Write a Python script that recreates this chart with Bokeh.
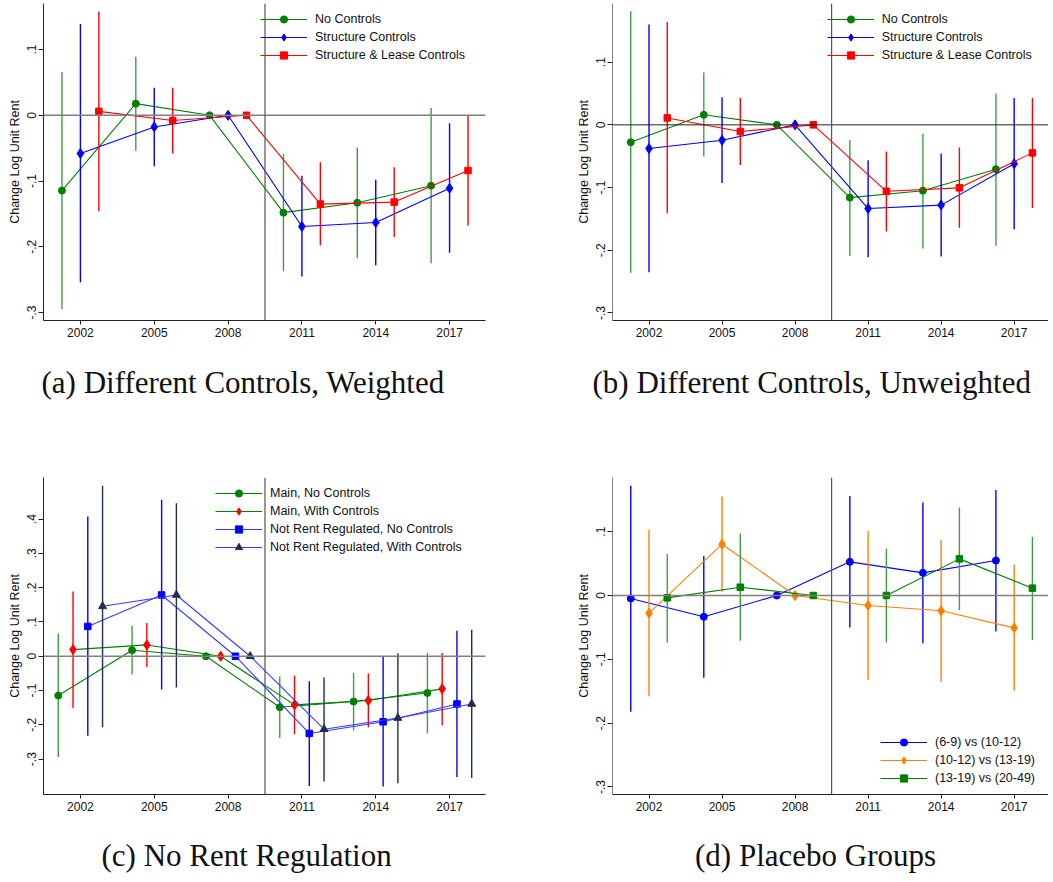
import math
from bokeh.plotting import figure
from bokeh.models import Range1d, FixedTicker, Span, Legend, LegendItem, Title
from bokeh.layouts import row, column
from bokeh.embed import file_html
from bokeh.resources import INLINE

years = [2002, 2005, 2008, 2011, 2014, 2017]
NA = float("nan")

# ---------------- Panel (a): Different Controls, Weighted ----------------
a_none = [-0.1145, 0.0177, 0.0, -0.148, -0.133, -0.107]
a_none_lo = [-0.295, -0.054, NA, -0.237, -0.217, -0.225]
a_none_hi = [0.066, 0.089, NA, -0.059, -0.049, 0.011]
a_struct = [-0.058, -0.0177, 0.0, -0.169, -0.163, -0.111]
a_struct_lo = [-0.254, -0.0775, NA, -0.245, -0.228, -0.209]
a_struct_hi = [0.139, 0.042, NA, -0.092, -0.098, -0.012]
a_lease = [0.006, -0.008, 0.0, -0.135, -0.132, -0.084]
a_lease_lo = [-0.146, -0.058, NA, -0.198, -0.185, -0.168]
a_lease_hi = [0.158, 0.042, NA, -0.0715, -0.079, -0.0005]

# ---------------- Panel (b): Different Controls, Unweighted ----------------
b_none = [-0.0277, 0.016, 0.0, -0.116, -0.105, -0.0707]
b_none_lo = [-0.236, -0.0505, NA, -0.209, -0.197, -0.193]
b_none_hi = [0.181, 0.0835, NA, -0.024, -0.0144, 0.05]
b_struct = [-0.0378, -0.0245, 0.0, -0.1335, -0.128, -0.062]
b_struct_lo = [-0.235, -0.0926, NA, -0.211, -0.21, -0.1665]
b_struct_hi = [0.16, 0.044, NA, -0.0564, -0.0457, 0.043]
b_lease = [0.011, -0.0106, 0.0, -0.106, -0.1005, -0.0447]
b_lease_lo = [-0.141, -0.064, NA, -0.17, -0.164, -0.1325]
b_lease_hi = [0.164, 0.043, NA, -0.0426, -0.036, 0.043]

# ---------------- Panel (c): No Rent Regulation ----------------
c_main_nc = [-0.1146, 0.0175, 0.0, -0.1485, -0.132, -0.107]
c_main_nc_lo = [-0.294, -0.053, NA, -0.238, -0.2165, -0.225]
c_main_nc_hi = [0.066, 0.089, NA, -0.059, -0.0485, 0.0097]
c_main_wc = [0.0194, 0.033, 0.0, -0.1417, -0.129, -0.095]
c_main_wc_lo = [-0.151, -0.031, NA, -0.227, -0.207, -0.201]
c_main_wc_hi = [0.189, 0.097, NA, -0.056, -0.0505, 0.0097]
c_nrr_nc = [0.087, 0.1786, 0.0, -0.225, -0.191, -0.139]
c_nrr_nc_lo = [-0.232, -0.097, NA, -0.378, -0.38, -0.352]
c_nrr_nc_hi = [0.407, 0.456, NA, -0.073, -0.001, 0.074]
c_nrr_wc = [0.1456, 0.1786, 0.0, -0.2126, -0.18, -0.139]
c_nrr_wc_lo = [-0.207, -0.091, NA, -0.365, -0.37, -0.355]
c_nrr_wc_hi = [0.497, 0.446, NA, -0.062, 0.009, 0.077]

# ---------------- Panel (d): Placebo Groups ----------------
d_g1 = [-0.0047, -0.0334, 0.0, 0.0527, 0.0355, 0.0548]
d_g1_lo = [-0.182, -0.129, NA, -0.050, -0.0747, -0.0564]
d_g1_hi = [0.172, 0.062, NA, 0.156, 0.1457, 0.1655]
d_g2 = [-0.0277, 0.0804, 0.0, -0.0157, -0.024, -0.0507]
d_g2_lo = [-0.158, 0.0057, NA, -0.1326, -0.135, -0.149]
d_g2_hi = [0.1029, 0.155, NA, 0.101, 0.087, 0.048]
d_g3 = [-0.0037, 0.013, 0.0, 0.0, 0.0574, 0.0115]
d_g3_lo = [-0.0736, -0.071, NA, -0.0736, -0.023, -0.070]
d_g3_hi = [0.065, 0.097, NA, 0.0736, 0.138, 0.092]

y_ticks_small = [-0.3, -0.2, -0.1, 0.0, 0.1]
y_ticks_big = [-0.3, -0.2, -0.1, 0.0, 0.1, 0.2, 0.3, 0.4]
y_tick_labels = {-0.3: "-.3", -0.2: "-.2", -0.1: "-.1", 0.0: "0", 0.1: ".1",
                 0.2: ".2", 0.3: ".3", 0.4: ".4"}

GREEN = "#008000"
GREEN_CI = "#3f9f3f"
BLUE = "#0000ff"
RED = "#ff0000"
ORANGE = "#ff8000"
NAVY = "#1f2d50"
NRR_LINE = "#3a3aff"

SANS = "Liberation Sans"
SERIF = "Liberation Serif"
CAP_SIZE = "31px"


def make_panel(series, xr, yr, yticks, frame_w, frame_h, left, top, bottom, right,
               legend_xy, caption, left_axis_color, zero_color, zero_width):
    p = figure(frame_width=frame_w, frame_height=frame_h,
               x_range=Range1d(*xr), y_range=Range1d(*yr),
               output_backend="svg", toolbar_location=None,
               min_border_left=left, min_border_right=right,
               min_border_top=top, min_border_bottom=bottom,
               background_fill_color="white", border_fill_color="white")
    p.outline_line_color = None
    p.xgrid.visible = False
    p.ygrid.visible = False

    p.xaxis.ticker = FixedTicker(ticks=years)
    p.yaxis.ticker = FixedTicker(ticks=yticks)
    p.yaxis.major_label_overrides = {t: y_tick_labels[t] for t in yticks}
    p.yaxis.major_label_orientation = "vertical"
    for ax in (p.xaxis, p.yaxis):
        ax.minor_tick_line_color = None
        ax.major_tick_in = 0
        ax.major_label_text_font = SANS
        ax.major_label_text_font_size = "12px"
        ax.major_label_text_color = "#111111"
        ax.major_tick_line_color = "#222222"
    p.xaxis.major_tick_out = 4
    p.yaxis.major_tick_out = 5
    p.xaxis.major_label_standoff = 3
    p.yaxis.major_label_standoff = 2
    p.xaxis.axis_line_color = "#222222"
    p.yaxis.axis_line_color = left_axis_color
    p.yaxis.axis_label = "Change Log Unit Rent"
    p.yaxis.axis_label_text_font = SANS
    p.yaxis.axis_label_text_font_size = "12.5px"
    p.yaxis.axis_label_text_font_style = "normal"
    p.yaxis.axis_label_standoff = 3
    p.yaxis.axis_label_text_color = "#111111"

    p.add_layout(Span(location=0, dimension="width", line_color=zero_color,
                      line_width=zero_width))
    p.add_layout(Span(location=2009.5, dimension="height", line_color="#555555",
                      line_width=1.2))

    items = []
    for (label, off, est, lo, hi, line_color, marker, mcolor, ci_color, msize) in series:
        xs = [y + off for y in years]
        x0 = [x for x, l in zip(xs, lo) if not math.isnan(l)]
        y0 = [l for l in lo if not math.isnan(l)]
        y1 = [h for h in hi if not math.isnan(h)]
        p.segment(x0=x0, y0=y0, x1=x0, y1=y1, line_color=ci_color, line_width=1.4)
        lr = p.line(xs, est, line_color=line_color, line_width=1.1)
        sr = p.scatter(xs, est, marker=marker, size=msize,
                       fill_color=mcolor, line_color=mcolor)
        items.append(LegendItem(label=label, renderers=[lr, sr]))

    leg = Legend(items=items, location=legend_xy, padding=0, margin=0,
                 spacing=0, glyph_width=47, glyph_height=18, label_height=18,
                 label_standoff=8, border_line_color=None,
                 background_fill_alpha=0, label_text_font=SANS,
                 label_text_font_size="12.5px", label_text_color="#111111")
    p.add_layout(leg)

    text, offset, standoff = caption
    p.add_layout(Title(text=text, align="left", offset=offset, text_font=SERIF,
                       text_font_size=CAP_SIZE, text_font_style="normal",
                       text_color="#111111", standoff=standoff), "below")
    return p


off3 = [-0.75, 0.0, 0.75]
off4 = [-0.9, -0.3, 0.3, 0.9]

pa = make_panel([
    ("No Controls", off3[0], a_none, a_none_lo, a_none_hi, GREEN, "circle", GREEN, GREEN_CI, 7),
    ("Structure Controls", off3[1], a_struct, a_struct_lo, a_struct_hi, BLUE, "diamond", BLUE, BLUE, 10),
    ("Structure & Lease Controls", off3[2], a_lease, a_lease_lo, a_lease_hi, RED, "square", RED, RED, 6.5),
], (2000.5, 2018.46), (-0.312, 0.17), y_ticks_small, 442, 317, 43, 3, 150, 85,
    (217, 255.7), ("(a) Different Controls, Weighted", -2, 47), "#222222", "#808080", 1.6)

pb = make_panel([
    ("No Controls", off3[0], b_none, b_none_lo, b_none_hi, GREEN, "circle", GREEN, GREEN_CI, 7),
    ("Structure Controls", off3[1], b_struct, b_struct_lo, b_struct_hi, BLUE, "diamond", BLUE, BLUE, 10),
    ("Structure & Lease Controls", off3[2], b_lease, b_lease_lo, b_lease_hi, RED, "square", RED, RED, 6.5),
], (2000.5, 2018.41), (-0.312, 0.1935), y_ticks_small, 436, 317, 42, 3, 150, 0,
    (214.7, 255.7), ("(b) Different Controls, Unweighted", -20, 47), "#808080", "#222222", 1.0)

pc = make_panel([
    ("Main, No Controls", off4[0], c_main_nc, c_main_nc_lo, c_main_nc_hi, GREEN, "circle", GREEN, GREEN_CI, 7),
    ("Main, With Controls", off4[1], c_main_wc, c_main_wc_lo, c_main_wc_hi, GREEN, "diamond", RED, RED, 10),
    ("Not Rent Regulated, No Controls", off4[2], c_nrr_nc, c_nrr_nc_lo, c_nrr_nc_hi, NRR_LINE, "square", BLUE, BLUE, 6.5),
    ("Not Rent Regulated, With Controls", off4[3], c_nrr_wc, c_nrr_wc_lo, c_nrr_wc_hi, NRR_LINE, "triangle", NAVY, NAVY, 8),
], (2000.5, 2018.46), (-0.403, 0.521), y_ticks_big, 442, 317, 43, 7, 88, 85,
    (172, 237.7), ("(c) No Rent Regulation", 58, 45), "#222222", "#808080", 1.6)

pd_ = make_panel([
    ("(6-9) vs (10-12)", off3[0], d_g1, d_g1_lo, d_g1_hi, BLUE, "circle", BLUE, BLUE, 7),
    ("(10-12) vs (13-19)", off3[1], d_g2, d_g2_lo, d_g2_hi, ORANGE, "diamond", ORANGE, ORANGE, 10),
    ("(13-19) vs (20-49)", off3[2], d_g3, d_g3_lo, d_g3_hi, GREEN, "square", GREEN, GREEN_CI, 6.5),
], (2000.5, 2018.41), (-0.3118, 0.1849), y_ticks_small, 436, 317, 42, 7, 88, 0,
    (268, 6.7), ("(d) Placebo Groups", 82.5, 45), "#808080", "#808080", 1.6)

layout = column(row(pa, pb), row(pc, pd_))
open("out.html", "w").write(file_html(layout, INLINE))
